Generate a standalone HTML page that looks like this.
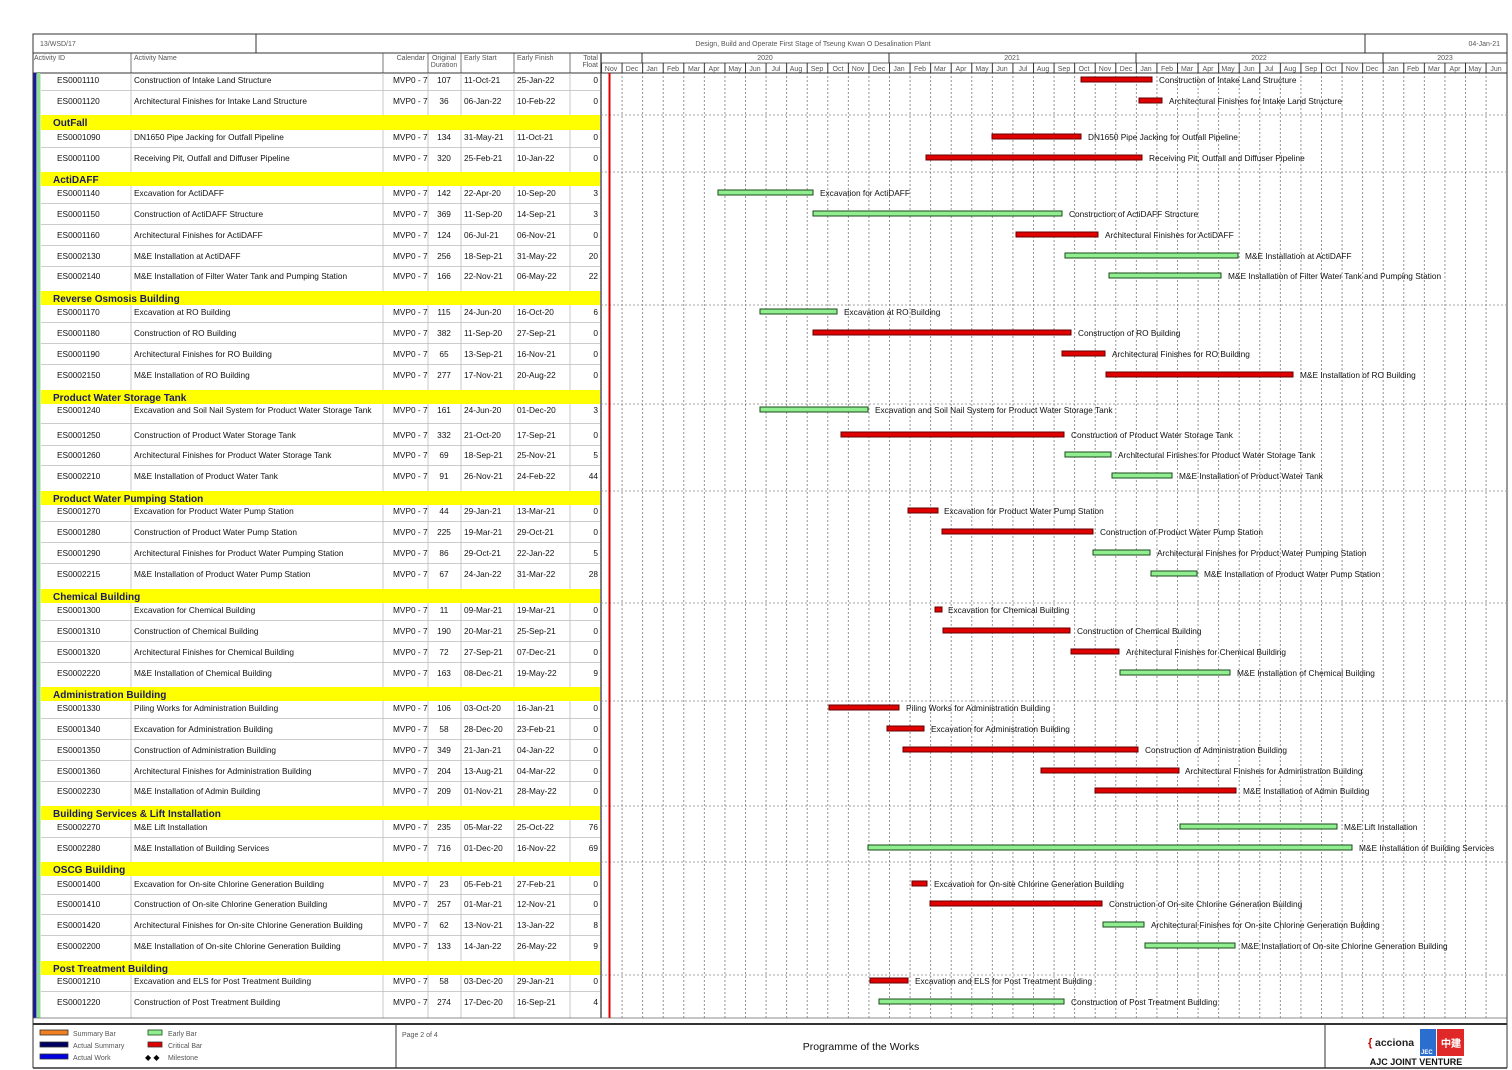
<!DOCTYPE html>
<html><head><meta charset="utf-8"><style>
html,body{margin:0;padding:0;background:#fff;}
svg{display:block;font-family:"Liberation Sans",Arial,sans-serif;}
.t{font-size:8.3px;fill:#111;}
.h{font-size:7px;fill:#555;}
.g{font-size:10px;font-weight:bold;fill:#1a1a60;}
.l{font-size:8.3px;fill:#111;}
.r{fill:#e00000;stroke:#600;stroke-width:1;}
.e{fill:#90ee90;stroke:#1a4a1a;stroke-width:1;}
</style></head><body>
<svg width="1512" height="1070" viewBox="0 0 1512 1070" xmlns="http://www.w3.org/2000/svg">
<defs>
<pattern id="vd" patternUnits="userSpaceOnUse" x="601" y="0" width="20.5714" height="4">
<line x1="0.5" y1="0" x2="0.5" y2="2" stroke="#777" stroke-width="0.8"/>
</pattern>
<pattern id="hm" patternUnits="userSpaceOnUse" x="601" y="0" width="20.5714" height="20">
<line x1="0.5" y1="0" x2="0.5" y2="20" stroke="#333" stroke-width="1"/>
</pattern>
</defs>
<rect width="1512" height="1070" fill="#fff"/>
<!-- top header -->
<rect x="33" y="34" width="1474" height="39" fill="#fff" stroke="#333" stroke-width="1"/>
<line x1="33" y1="53" x2="1507" y2="53" stroke="#333"/>
<line x1="256" y1="34" x2="256" y2="53" stroke="#333"/>
<line x1="1365" y1="34" x2="1365" y2="53" stroke="#333"/>
<text x="40" y="46" class="h">13/WSD/17</text>
<text x="813" y="46" class="h" text-anchor="middle">Design, Build and Operate First Stage of Tseung Kwan O Desalination Plant</text>
<text x="1500" y="46" class="h" text-anchor="end">04-Jan-21</text>
<!-- column headers -->
<g stroke="#555" stroke-width="0.8">
<line x1="131" y1="53" x2="131" y2="73"/><line x1="383" y1="53" x2="383" y2="73"/><line x1="428" y1="53" x2="428" y2="73"/><line x1="461" y1="53" x2="461" y2="73"/><line x1="514" y1="53" x2="514" y2="73"/><line x1="570" y1="53" x2="570" y2="73"/>
</g>
<text x="34" y="60" class="h">Activity ID</text>
<text x="134" y="60" class="h">Activity Name</text>
<text x="425" y="60" class="h" text-anchor="end">Calendar</text>
<text x="444" y="60" class="h" text-anchor="middle">Original</text>
<text x="444" y="67" class="h" text-anchor="middle">Duration</text>
<text x="464" y="60" class="h">Early Start</text>
<text x="517" y="60" class="h">Early Finish</text>
<text x="598" y="60" class="h" text-anchor="end">Total</text>
<text x="598" y="67" class="h" text-anchor="end">Float</text>
<line x1="601" y1="53" x2="601" y2="1018" stroke="#555" stroke-width="1.5"/>
<line x1="601" y1="63" x2="1507" y2="63" stroke="#333" stroke-width="0.8"/>
<rect x="601" y="63" width="905" height="10" fill="url(#hm)"/>
<g stroke="#333" stroke-width="1"><line x1="642" y1="53" x2="642" y2="63"/><line x1="889" y1="53" x2="889" y2="63"/><line x1="1136" y1="53" x2="1136" y2="63"/><line x1="1383" y1="53" x2="1383" y2="63"/></g>
<g class="h" text-anchor="middle">
<text x="765" y="60">2020</text><text x="1012" y="60">2021</text><text x="1259" y="60">2022</text><text x="1445" y="60">2023</text>
<text x="611" y="71">Nov</text><text x="632" y="71">Dec</text><text x="652" y="71">Jan</text><text x="673" y="71">Feb</text><text x="694" y="71">Mar</text><text x="714" y="71">Apr</text><text x="735" y="71">May</text><text x="755" y="71">Jun</text><text x="776" y="71">Jul</text><text x="796" y="71">Aug</text><text x="817" y="71">Sep</text><text x="838" y="71">Oct</text><text x="858" y="71">Nov</text><text x="879" y="71">Dec</text>
<text x="899" y="71">Jan</text><text x="920" y="71">Feb</text><text x="940" y="71">Mar</text><text x="961" y="71">Apr</text><text x="982" y="71">May</text><text x="1002" y="71">Jun</text><text x="1023" y="71">Jul</text><text x="1043" y="71">Aug</text><text x="1064" y="71">Sep</text><text x="1084" y="71">Oct</text><text x="1105" y="71">Nov</text><text x="1126" y="71">Dec</text>
<text x="1146" y="71">Jan</text><text x="1167" y="71">Feb</text><text x="1187" y="71">Mar</text><text x="1208" y="71">Apr</text><text x="1228" y="71">May</text><text x="1249" y="71">Jun</text><text x="1269" y="71">Jul</text><text x="1290" y="71">Aug</text><text x="1311" y="71">Sep</text><text x="1331" y="71">Oct</text><text x="1352" y="71">Nov</text><text x="1372" y="71">Dec</text>
<text x="1393" y="71">Jan</text><text x="1413" y="71">Feb</text><text x="1434" y="71">Mar</text><text x="1455" y="71">Apr</text><text x="1475" y="71">May</text><text x="1496" y="71">Jun</text>
</g>
<line x1="33" y1="73" x2="1507" y2="73" stroke="#333" stroke-width="1"/>
<!-- chart grid -->
<rect x="601" y="73" width="905" height="945" fill="url(#vd)"/>
<!-- body left strip & col lines -->
<rect x="33" y="73" width="3.5" height="945" fill="#1a1aa0"/>
<rect x="37" y="73" width="3.5" height="945" fill="#8fe08f"/>
<g stroke="#bbb" stroke-width="0.8">
<line x1="131" y1="73" x2="131" y2="1018"/><line x1="383" y1="73" x2="383" y2="1018"/><line x1="428" y1="73" x2="428" y2="1018"/><line x1="461" y1="73" x2="461" y2="1018"/><line x1="514" y1="73" x2="514" y2="1018"/><line x1="570" y1="73" x2="570" y2="1018"/>
<line x1="41" y1="90.5" x2="600" y2="90.5"/><line x1="41" y1="147.5" x2="600" y2="147.5"/><line x1="41" y1="203.5" x2="600" y2="203.5"/><line x1="41" y1="224.5" x2="600" y2="224.5"/><line x1="41" y1="245.5" x2="600" y2="245.5"/><line x1="41" y1="266.5" x2="600" y2="266.5"/>
<line x1="41" y1="322.5" x2="600" y2="322.5"/><line x1="41" y1="343.5" x2="600" y2="343.5"/><line x1="41" y1="364.5" x2="600" y2="364.5"/>
<line x1="41" y1="423.5" x2="600" y2="423.5"/><line x1="41" y1="445.5" x2="600" y2="445.5"/><line x1="41" y1="465.5" x2="600" y2="465.5"/>
<line x1="41" y1="521.5" x2="600" y2="521.5"/><line x1="41" y1="542.5" x2="600" y2="542.5"/><line x1="41" y1="563.5" x2="600" y2="563.5"/>
<line x1="41" y1="620.5" x2="600" y2="620.5"/><line x1="41" y1="641.5" x2="600" y2="641.5"/><line x1="41" y1="662.5" x2="600" y2="662.5"/>
<line x1="41" y1="718.5" x2="600" y2="718.5"/><line x1="41" y1="739.5" x2="600" y2="739.5"/><line x1="41" y1="760.5" x2="600" y2="760.5"/><line x1="41" y1="781.5" x2="600" y2="781.5"/>
<line x1="41" y1="837.5" x2="600" y2="837.5"/>
<line x1="41" y1="894.5" x2="600" y2="894.5"/><line x1="41" y1="914.5" x2="600" y2="914.5"/><line x1="41" y1="935.5" x2="600" y2="935.5"/>
<line x1="41" y1="991.5" x2="600" y2="991.5"/>
</g>
<!-- group headers -->
<g fill="#ffff00">
<rect x="41" y="115" width="559" height="15"/><rect x="41" y="172" width="559" height="14"/><rect x="41" y="291" width="559" height="14"/><rect x="41" y="390" width="559" height="14"/><rect x="41" y="491" width="559" height="14"/><rect x="41" y="589" width="559" height="14"/><rect x="41" y="687" width="559" height="14"/><rect x="41" y="806" width="559" height="14"/><rect x="41" y="862" width="559" height="14"/><rect x="41" y="961" width="559" height="14"/>
</g>
<g class="g">
<text x="53" y="126">OutFall</text><text x="53" y="183">ActiDAFF</text><text x="53" y="302">Reverse Osmosis Building</text><text x="53" y="401">Product Water Storage Tank</text><text x="53" y="502">Product Water Pumping Station</text><text x="53" y="600">Chemical Building</text><text x="53" y="698">Administration Building</text><text x="53" y="817">Building Services &amp; Lift Installation</text><text x="53" y="873">OSCG Building</text><text x="53" y="972">Post Treatment Building</text>
</g>
<g stroke="#888" stroke-width="0.7" stroke-dasharray="2,2">
<line x1="601" y1="115" x2="1506" y2="115"/><line x1="601" y1="172" x2="1506" y2="172"/><line x1="601" y1="305" x2="1506" y2="305"/><line x1="601" y1="404" x2="1506" y2="404"/><line x1="601" y1="491" x2="1506" y2="491"/><line x1="601" y1="603" x2="1506" y2="603"/><line x1="601" y1="701" x2="1506" y2="701"/><line x1="601" y1="806" x2="1506" y2="806"/><line x1="601" y1="862" x2="1506" y2="862"/><line x1="601" y1="975" x2="1506" y2="975"/>
</g>
<line x1="609.5" y1="73" x2="609.5" y2="1018" stroke="#e00000" stroke-width="2"/>
<!-- rows -->
<g class="t">
<text x="57" y="83">ES0001110</text><text x="134" y="83">Construction of Intake Land Structure</text><text x="393" y="83">MVP0 - 7</text><text x="444" y="83" text-anchor="middle">107</text><text x="464" y="83">11-Oct-21</text><text x="517" y="83">25-Jan-22</text><text x="598" y="83" text-anchor="end">0</text>
<text x="57" y="104">ES0001120</text><text x="134" y="104">Architectural Finishes for Intake Land Structure</text><text x="393" y="104">MVP0 - 7</text><text x="444" y="104" text-anchor="middle">36</text><text x="464" y="104">06-Jan-22</text><text x="517" y="104">10-Feb-22</text><text x="598" y="104" text-anchor="end">0</text>
<text x="57" y="140">ES0001090</text><text x="134" y="140">DN1650 Pipe Jacking for Outfall Pipeline</text><text x="393" y="140">MVP0 - 7</text><text x="444" y="140" text-anchor="middle">134</text><text x="464" y="140">31-May-21</text><text x="517" y="140">11-Oct-21</text><text x="598" y="140" text-anchor="end">0</text>
<text x="57" y="161">ES0001100</text><text x="134" y="161">Receiving Pit, Outfall and Diffuser Pipeline</text><text x="393" y="161">MVP0 - 7</text><text x="444" y="161" text-anchor="middle">320</text><text x="464" y="161">25-Feb-21</text><text x="517" y="161">10-Jan-22</text><text x="598" y="161" text-anchor="end">0</text>
<text x="57" y="196">ES0001140</text><text x="134" y="196">Excavation for ActiDAFF</text><text x="393" y="196">MVP0 - 7</text><text x="444" y="196" text-anchor="middle">142</text><text x="464" y="196">22-Apr-20</text><text x="517" y="196">10-Sep-20</text><text x="598" y="196" text-anchor="end">3</text>
<text x="57" y="217">ES0001150</text><text x="134" y="217">Construction of ActiDAFF Structure</text><text x="393" y="217">MVP0 - 7</text><text x="444" y="217" text-anchor="middle">369</text><text x="464" y="217">11-Sep-20</text><text x="517" y="217">14-Sep-21</text><text x="598" y="217" text-anchor="end">3</text>
<text x="57" y="238">ES0001160</text><text x="134" y="238">Architectural Finishes for ActiDAFF</text><text x="393" y="238">MVP0 - 7</text><text x="444" y="238" text-anchor="middle">124</text><text x="464" y="238">06-Jul-21</text><text x="517" y="238">06-Nov-21</text><text x="598" y="238" text-anchor="end">0</text>
<text x="57" y="259">ES0002130</text><text x="134" y="259">M&amp;E Installation at ActiDAFF</text><text x="393" y="259">MVP0 - 7</text><text x="444" y="259" text-anchor="middle">256</text><text x="464" y="259">18-Sep-21</text><text x="517" y="259">31-May-22</text><text x="598" y="259" text-anchor="end">20</text>
<text x="57" y="279">ES0002140</text><text x="134" y="279">M&amp;E Installation of Filter Water Tank and Pumping Station</text><text x="393" y="279">MVP0 - 7</text><text x="444" y="279" text-anchor="middle">166</text><text x="464" y="279">22-Nov-21</text><text x="517" y="279">06-May-22</text><text x="598" y="279" text-anchor="end">22</text>
<text x="57" y="315">ES0001170</text><text x="134" y="315">Excavation at RO Building</text><text x="393" y="315">MVP0 - 7</text><text x="444" y="315" text-anchor="middle">115</text><text x="464" y="315">24-Jun-20</text><text x="517" y="315">16-Oct-20</text><text x="598" y="315" text-anchor="end">6</text>
<text x="57" y="336">ES0001180</text><text x="134" y="336">Construction of RO Building</text><text x="393" y="336">MVP0 - 7</text><text x="444" y="336" text-anchor="middle">382</text><text x="464" y="336">11-Sep-20</text><text x="517" y="336">27-Sep-21</text><text x="598" y="336" text-anchor="end">0</text>
<text x="57" y="357">ES0001190</text><text x="134" y="357">Architectural Finishes for RO Building</text><text x="393" y="357">MVP0 - 7</text><text x="444" y="357" text-anchor="middle">65</text><text x="464" y="357">13-Sep-21</text><text x="517" y="357">16-Nov-21</text><text x="598" y="357" text-anchor="end">0</text>
<text x="57" y="378">ES0002150</text><text x="134" y="378">M&amp;E Installation of RO Building</text><text x="393" y="378">MVP0 - 7</text><text x="444" y="378" text-anchor="middle">277</text><text x="464" y="378">17-Nov-21</text><text x="517" y="378">20-Aug-22</text><text x="598" y="378" text-anchor="end">0</text>
<text x="57" y="413">ES0001240</text><text x="134" y="413">Excavation and Soil Nail System for Product Water Storage Tank</text><text x="393" y="413">MVP0 - 7</text><text x="444" y="413" text-anchor="middle">161</text><text x="464" y="413">24-Jun-20</text><text x="517" y="413">01-Dec-20</text><text x="598" y="413" text-anchor="end">3</text>
<text x="57" y="438">ES0001250</text><text x="134" y="438">Construction of Product Water Storage Tank</text><text x="393" y="438">MVP0 - 7</text><text x="444" y="438" text-anchor="middle">332</text><text x="464" y="438">21-Oct-20</text><text x="517" y="438">17-Sep-21</text><text x="598" y="438" text-anchor="end">0</text>
<text x="57" y="458">ES0001260</text><text x="134" y="458">Architectural Finishes for Product Water Storage Tank</text><text x="393" y="458">MVP0 - 7</text><text x="444" y="458" text-anchor="middle">69</text><text x="464" y="458">18-Sep-21</text><text x="517" y="458">25-Nov-21</text><text x="598" y="458" text-anchor="end">5</text>
<text x="57" y="479">ES0002210</text><text x="134" y="479">M&amp;E Installation of Product Water Tank</text><text x="393" y="479">MVP0 - 7</text><text x="444" y="479" text-anchor="middle">91</text><text x="464" y="479">26-Nov-21</text><text x="517" y="479">24-Feb-22</text><text x="598" y="479" text-anchor="end">44</text>
<text x="57" y="514">ES0001270</text><text x="134" y="514">Excavation for Product Water Pump Station</text><text x="393" y="514">MVP0 - 7</text><text x="444" y="514" text-anchor="middle">44</text><text x="464" y="514">29-Jan-21</text><text x="517" y="514">13-Mar-21</text><text x="598" y="514" text-anchor="end">0</text>
<text x="57" y="535">ES0001280</text><text x="134" y="535">Construction of Product Water Pump Station</text><text x="393" y="535">MVP0 - 7</text><text x="444" y="535" text-anchor="middle">225</text><text x="464" y="535">19-Mar-21</text><text x="517" y="535">29-Oct-21</text><text x="598" y="535" text-anchor="end">0</text>
<text x="57" y="556">ES0001290</text><text x="134" y="556">Architectural Finishes for Product Water Pumping Station</text><text x="393" y="556">MVP0 - 7</text><text x="444" y="556" text-anchor="middle">86</text><text x="464" y="556">29-Oct-21</text><text x="517" y="556">22-Jan-22</text><text x="598" y="556" text-anchor="end">5</text>
<text x="57" y="577">ES0002215</text><text x="134" y="577">M&amp;E Installation of Product Water Pump Station</text><text x="393" y="577">MVP0 - 7</text><text x="444" y="577" text-anchor="middle">67</text><text x="464" y="577">24-Jan-22</text><text x="517" y="577">31-Mar-22</text><text x="598" y="577" text-anchor="end">28</text>
<text x="57" y="613">ES0001300</text><text x="134" y="613">Excavation for Chemical Building</text><text x="393" y="613">MVP0 - 7</text><text x="444" y="613" text-anchor="middle">11</text><text x="464" y="613">09-Mar-21</text><text x="517" y="613">19-Mar-21</text><text x="598" y="613" text-anchor="end">0</text>
<text x="57" y="634">ES0001310</text><text x="134" y="634">Construction of Chemical Building</text><text x="393" y="634">MVP0 - 7</text><text x="444" y="634" text-anchor="middle">190</text><text x="464" y="634">20-Mar-21</text><text x="517" y="634">25-Sep-21</text><text x="598" y="634" text-anchor="end">0</text>
<text x="57" y="655">ES0001320</text><text x="134" y="655">Architectural Finishes for Chemical Building</text><text x="393" y="655">MVP0 - 7</text><text x="444" y="655" text-anchor="middle">72</text><text x="464" y="655">27-Sep-21</text><text x="517" y="655">07-Dec-21</text><text x="598" y="655" text-anchor="end">0</text>
<text x="57" y="676">ES0002220</text><text x="134" y="676">M&amp;E Installation of Chemical Building</text><text x="393" y="676">MVP0 - 7</text><text x="444" y="676" text-anchor="middle">163</text><text x="464" y="676">08-Dec-21</text><text x="517" y="676">19-May-22</text><text x="598" y="676" text-anchor="end">9</text>
<text x="57" y="711">ES0001330</text><text x="134" y="711">Piling Works for Administration Building</text><text x="393" y="711">MVP0 - 7</text><text x="444" y="711" text-anchor="middle">106</text><text x="464" y="711">03-Oct-20</text><text x="517" y="711">16-Jan-21</text><text x="598" y="711" text-anchor="end">0</text>
<text x="57" y="732">ES0001340</text><text x="134" y="732">Excavation for Administration Building</text><text x="393" y="732">MVP0 - 7</text><text x="444" y="732" text-anchor="middle">58</text><text x="464" y="732">28-Dec-20</text><text x="517" y="732">23-Feb-21</text><text x="598" y="732" text-anchor="end">0</text>
<text x="57" y="753">ES0001350</text><text x="134" y="753">Construction of Administration Building</text><text x="393" y="753">MVP0 - 7</text><text x="444" y="753" text-anchor="middle">349</text><text x="464" y="753">21-Jan-21</text><text x="517" y="753">04-Jan-22</text><text x="598" y="753" text-anchor="end">0</text>
<text x="57" y="774">ES0001360</text><text x="134" y="774">Architectural Finishes for Administration Building</text><text x="393" y="774">MVP0 - 7</text><text x="444" y="774" text-anchor="middle">204</text><text x="464" y="774">13-Aug-21</text><text x="517" y="774">04-Mar-22</text><text x="598" y="774" text-anchor="end">0</text>
<text x="57" y="794">ES0002230</text><text x="134" y="794">M&amp;E Installation of Admin Building</text><text x="393" y="794">MVP0 - 7</text><text x="444" y="794" text-anchor="middle">209</text><text x="464" y="794">01-Nov-21</text><text x="517" y="794">28-May-22</text><text x="598" y="794" text-anchor="end">0</text>
<text x="57" y="830">ES0002270</text><text x="134" y="830">M&amp;E Lift Installation</text><text x="393" y="830">MVP0 - 7</text><text x="444" y="830" text-anchor="middle">235</text><text x="464" y="830">05-Mar-22</text><text x="517" y="830">25-Oct-22</text><text x="598" y="830" text-anchor="end">76</text>
<text x="57" y="851">ES0002280</text><text x="134" y="851">M&amp;E Installation of Building Services</text><text x="393" y="851">MVP0 - 7</text><text x="444" y="851" text-anchor="middle">716</text><text x="464" y="851">01-Dec-20</text><text x="517" y="851">16-Nov-22</text><text x="598" y="851" text-anchor="end">69</text>
<text x="57" y="887">ES0001400</text><text x="134" y="887">Excavation for On-site Chlorine Generation Building</text><text x="393" y="887">MVP0 - 7</text><text x="444" y="887" text-anchor="middle">23</text><text x="464" y="887">05-Feb-21</text><text x="517" y="887">27-Feb-21</text><text x="598" y="887" text-anchor="end">0</text>
<text x="57" y="907">ES0001410</text><text x="134" y="907">Construction of On-site Chlorine Generation Building</text><text x="393" y="907">MVP0 - 7</text><text x="444" y="907" text-anchor="middle">257</text><text x="464" y="907">01-Mar-21</text><text x="517" y="907">12-Nov-21</text><text x="598" y="907" text-anchor="end">0</text>
<text x="57" y="928">ES0001420</text><text x="134" y="928">Architectural Finishes for On-site Chlorine Generation Building</text><text x="393" y="928">MVP0 - 7</text><text x="444" y="928" text-anchor="middle">62</text><text x="464" y="928">13-Nov-21</text><text x="517" y="928">13-Jan-22</text><text x="598" y="928" text-anchor="end">8</text>
<text x="57" y="949">ES0002200</text><text x="134" y="949">M&amp;E Installation of On-site Chlorine Generation Building</text><text x="393" y="949">MVP0 - 7</text><text x="444" y="949" text-anchor="middle">133</text><text x="464" y="949">14-Jan-22</text><text x="517" y="949">26-May-22</text><text x="598" y="949" text-anchor="end">9</text>
<text x="57" y="984">ES0001210</text><text x="134" y="984">Excavation and ELS for Post Treatment Building</text><text x="393" y="984">MVP0 - 7</text><text x="444" y="984" text-anchor="middle">58</text><text x="464" y="984">03-Dec-20</text><text x="517" y="984">29-Jan-21</text><text x="598" y="984" text-anchor="end">0</text>
<text x="57" y="1005">ES0001220</text><text x="134" y="1005">Construction of Post Treatment Building</text><text x="393" y="1005">MVP0 - 7</text><text x="444" y="1005" text-anchor="middle">274</text><text x="464" y="1005">17-Dec-20</text><text x="517" y="1005">16-Sep-21</text><text x="598" y="1005" text-anchor="end">4</text>
</g>
<!-- bars -->
<rect class="r" x="1081" y="77" width="71" height="5"/>
<rect class="r" x="1139" y="98" width="23" height="5"/>
<rect class="r" x="992" y="134" width="89" height="5"/>
<rect class="r" x="926" y="155" width="216" height="5"/>
<rect class="e" x="718" y="190" width="95" height="5"/>
<rect class="e" x="813" y="211" width="249" height="5"/>
<rect class="r" x="1016" y="232" width="82" height="5"/>
<rect class="e" x="1065" y="253" width="173" height="5"/>
<rect class="e" x="1109" y="273" width="112" height="5"/>
<rect class="e" x="760" y="309" width="77" height="5"/>
<rect class="r" x="813" y="330" width="258" height="5"/>
<rect class="r" x="1062" y="351" width="43" height="5"/>
<rect class="r" x="1106" y="372" width="187" height="5"/>
<rect class="e" x="760" y="407" width="108" height="5"/>
<rect class="r" x="841" y="432" width="223" height="5"/>
<rect class="e" x="1065" y="452" width="46" height="5"/>
<rect class="e" x="1112" y="473" width="60" height="5"/>
<rect class="r" x="908" y="508" width="30" height="5"/>
<rect class="r" x="942" y="529" width="151" height="5"/>
<rect class="e" x="1093" y="550" width="57" height="5"/>
<rect class="e" x="1151" y="571" width="46" height="5"/>
<rect class="r" x="935" y="607" width="7" height="5"/>
<rect class="r" x="943" y="628" width="127" height="5"/>
<rect class="r" x="1071" y="649" width="48" height="5"/>
<rect class="e" x="1120" y="670" width="110" height="5"/>
<rect class="r" x="829" y="705" width="70" height="5"/>
<rect class="r" x="887" y="726" width="37" height="5"/>
<rect class="r" x="903" y="747" width="235" height="5"/>
<rect class="r" x="1041" y="768" width="138" height="5"/>
<rect class="r" x="1095" y="788" width="141" height="5"/>
<rect class="e" x="1180" y="824" width="157" height="5"/>
<rect class="e" x="868" y="845" width="484" height="5"/>
<rect class="r" x="912" y="881" width="15" height="5"/>
<rect class="r" x="930" y="901" width="172" height="5"/>
<rect class="e" x="1103" y="922" width="41" height="5"/>
<rect class="e" x="1145" y="943" width="90" height="5"/>
<rect class="r" x="870" y="978" width="38" height="5"/>
<rect class="e" x="879" y="999" width="185" height="5"/>
<g class="l">
<text x="1159" y="83">Construction of Intake Land Structure</text>
<text x="1169" y="104">Architectural Finishes for Intake Land Structure</text>
<text x="1088" y="140">DN1650 Pipe Jacking for Outfall Pipeline</text>
<text x="1149" y="161">Receiving Pit, Outfall and Diffuser Pipeline</text>
<text x="820" y="196">Excavation for ActiDAFF</text>
<text x="1069" y="217">Construction of ActiDAFF Structure</text>
<text x="1105" y="238">Architectural Finishes for ActiDAFF</text>
<text x="1245" y="259">M&amp;E Installation at ActiDAFF</text>
<text x="1228" y="279">M&amp;E Installation of Filter Water Tank and Pumping Station</text>
<text x="844" y="315">Excavation at RO Building</text>
<text x="1078" y="336">Construction of RO Building</text>
<text x="1112" y="357">Architectural Finishes for RO Building</text>
<text x="1300" y="378">M&amp;E Installation of RO Building</text>
<text x="875" y="413">Excavation and Soil Nail System for Product Water Storage Tank</text>
<text x="1071" y="438">Construction of Product Water Storage Tank</text>
<text x="1118" y="458">Architectural Finishes for Product Water Storage Tank</text>
<text x="1179" y="479">M&amp;E Installation of Product Water Tank</text>
<text x="944" y="514">Excavation for Product Water Pump Station</text>
<text x="1100" y="535">Construction of Product Water Pump Station</text>
<text x="1157" y="556">Architectural Finishes for Product Water Pumping Station</text>
<text x="1204" y="577">M&amp;E Installation of Product Water Pump Station</text>
<text x="948" y="613">Excavation for Chemical Building</text>
<text x="1077" y="634">Construction of Chemical Building</text>
<text x="1126" y="655">Architectural Finishes for Chemical Building</text>
<text x="1237" y="676">M&amp;E Installation of Chemical Building</text>
<text x="906" y="711">Piling Works for Administration Building</text>
<text x="931" y="732">Excavation for Administration Building</text>
<text x="1145" y="753">Construction of Administration Building</text>
<text x="1185" y="774">Architectural Finishes for Administration Building</text>
<text x="1243" y="794">M&amp;E Installation of Admin Building</text>
<text x="1344" y="830">M&amp;E Lift Installation</text>
<text x="1359" y="851">M&amp;E Installation of Building Services</text>
<text x="934" y="887">Excavation for On-site Chlorine Generation Building</text>
<text x="1109" y="907">Construction of On-site Chlorine Generation Building</text>
<text x="1151" y="928">Architectural Finishes for On-site Chlorine Generation Building</text>
<text x="1241" y="949">M&amp;E Installation of On-site Chlorine Generation Building</text>
<text x="915" y="984">Excavation and ELS for Post Treatment Building</text>
<text x="1071" y="1005">Construction of Post Treatment Building</text>
</g>
<!-- bottom borders -->
<line x1="33" y1="1018" x2="1507" y2="1018" stroke="#666" stroke-width="0.8"/>
<line x1="33" y1="73" x2="33" y2="1068" stroke="#333"/>
<line x1="1507" y1="34" x2="1507" y2="1068" stroke="#333"/>
<line x1="33" y1="1024" x2="1507" y2="1024" stroke="#333" stroke-width="2"/>
<line x1="33" y1="1068" x2="1507" y2="1068" stroke="#333" stroke-width="1.5"/>
<line x1="396" y1="1024" x2="396" y2="1068" stroke="#333"/>
<line x1="1325" y1="1024" x2="1325" y2="1068" stroke="#333"/>
<!-- legend -->
<rect x="40" y="1030" width="28" height="5" fill="#f08020" stroke="#333" stroke-width="0.8"/>
<rect x="40" y="1042" width="28" height="5" fill="#000060" stroke="#333" stroke-width="0.8"/>
<rect x="40" y="1054" width="28" height="5" fill="#0000e0" stroke="#333" stroke-width="0.8"/>
<rect x="148" y="1030" width="14" height="5" fill="#90ee90" stroke="#1a4a1a" stroke-width="0.8"/>
<rect x="148" y="1042" width="14" height="5" fill="#e00000" stroke="#333" stroke-width="0.8"/>
<text x="145" y="1060" font-size="8" fill="#000">◆ ◆</text>
<g class="h">
<text x="73" y="1036">Summary Bar</text><text x="73" y="1048">Actual Summary</text><text x="73" y="1060">Actual Work</text>
<text x="168" y="1036">Early Bar</text><text x="168" y="1048">Critical Bar</text><text x="168" y="1060">Milestone</text>
<text x="402" y="1037">Page 2 of 4</text>
</g>
<text x="861" y="1050" font-size="10.5" fill="#111" text-anchor="middle">Programme of the Works</text>
<!-- logo -->
<text x="1368" y="1046" font-size="11" font-weight="bold" fill="#c00">{</text>
<text x="1375" y="1046" font-size="10.5" font-weight="bold" fill="#222">acciona</text>
<rect x="1420" y="1029" width="16" height="27" fill="#2a6fd0"/>
<text x="1421" y="1054" font-size="6" font-weight="bold" fill="#fff">JEC</text>
<rect x="1437" y="1029" width="27" height="27" fill="#e02828"/>
<text x="1451" y="1047" font-size="10" font-weight="bold" fill="#fff" text-anchor="middle">中建</text>
<text x="1416" y="1065" font-size="9" font-weight="bold" fill="#111" text-anchor="middle">AJC JOINT VENTURE</text>
</svg>
</body></html>
